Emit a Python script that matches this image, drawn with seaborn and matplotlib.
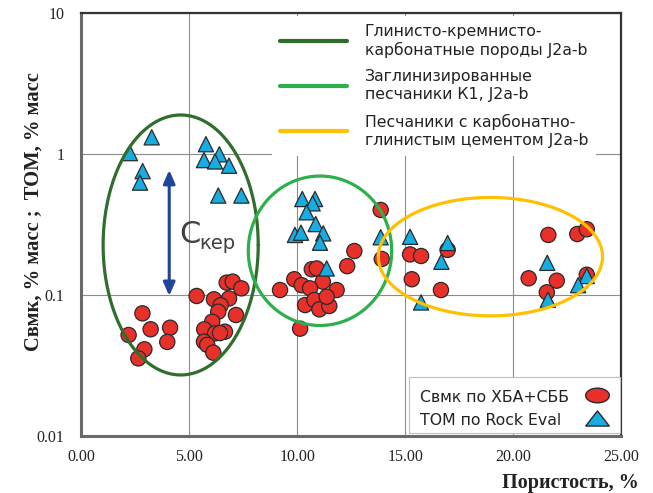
import numpy as np
import pandas as pd
import matplotlib
matplotlib.use("Agg")
import matplotlib.pyplot as plt
import seaborn as sns
from matplotlib.lines import Line2D
from matplotlib.patches import Rectangle
from matplotlib.ticker import FixedLocator, FuncFormatter, NullLocator

# ---------------- data ----------------
circ_x = [2.83, 2.19, 3.21, 4.11, 3.98, 2.92, 2.64,
          5.34, 6.14, 6.73, 7.01, 7.41, 6.84, 6.45, 6.34, 7.16, 6.06, 5.69, 6.19, 6.65, 6.42, 5.68, 5.83, 6.11,
          13.86, 12.64, 12.31, 13.91, 9.20, 9.86, 10.20, 10.67, 10.90, 11.18, 11.82, 10.59, 10.36, 10.79,
          11.02, 11.48, 11.36, 10.13,
          15.22, 15.73, 15.30, 16.96, 16.65, 21.62, 22.96, 23.40, 20.71, 22.01, 21.55, 23.40]
circ_y = [0.0745, 0.0523, 0.0574, 0.0589, 0.0467, 0.0414, 0.0357,
          0.0989, 0.0937, 0.123, 0.125, 0.112, 0.095, 0.085, 0.0765, 0.0725, 0.065, 0.0574, 0.0537, 0.0552, 0.054, 0.0469, 0.0445, 0.0392,
          0.403, 0.206, 0.161, 0.181, 0.109, 0.130, 0.118, 0.153, 0.155, 0.125, 0.109, 0.112, 0.0853, 0.0926,
          0.0795, 0.084, 0.0977, 0.058,
          0.195, 0.190, 0.130, 0.210, 0.109, 0.268, 0.272, 0.294, 0.132, 0.127, 0.105, 0.140]
tri_x = [3.26, 2.25, 2.84, 2.72, 5.77, 6.39, 5.68, 6.19, 6.84, 6.34, 7.41,
         10.23, 10.82, 10.71, 10.43, 10.85, 9.89, 10.17, 11.20, 11.05, 11.36, 13.86,
         15.22, 16.96, 16.67, 15.73, 21.57, 21.60, 23.40, 23.00]
tri_y = [1.32, 1.02, 0.76, 0.63, 1.18, 1.00, 0.91, 0.89, 0.83, 0.51, 0.51,
         0.482, 0.482, 0.449, 0.388, 0.320, 0.268, 0.278, 0.275, 0.236, 0.155, 0.258,
         0.260, 0.235, 0.173, 0.089, 0.170, 0.093, 0.137, 0.118]

series_labels = ["Свмк по ХБА+СББ", "ТОМ по Rock Eval"]

# outlined groups: centre x, centre y, half-width (x units), half-height (decades)
group_labels = ["Глинисто-кремнисто-\nкарбонатные породы J2a-b",
                "Заглинизированные\nпесчаники К1, J2a-b",
                "Песчаники с карбонатно-\nглинистым цементом J2a-b"]
group_cx = [4.60, 11.05, 18.94]
group_cy = [0.2275, 0.207, 0.188]
group_rx = [3.59, 3.32, 5.19]
group_rdec = [0.922, 0.53, 0.42]

arrow_x = 4.07
arrow_y = [0.774, 0.099]

x_ticks = [0, 5, 10, 15, 20, 25]
y_ticks = [0.01, 0.1, 1, 10]

# ---------------- style ----------------
sns.set_style("white")
plt.rcParams["font.family"] = ["DejaVu Sans"]

c_red = "#E8302A"
c_blue = "#17ADE3"
c_edge = "#2A2A2A"
g_colors = ["#2F6E2B", "#2DB04B", "#FFC000"]
serif = ["Liberation Serif", "DejaVu Serif"]
txt_col = "#222222"

fig = plt.figure(figsize=(6.53, 4.93), dpi=100)
ax = fig.add_axes([0.1245, 0.115, 0.827, 0.858])

df = pd.DataFrame({
    "x": circ_x + tri_x,
    "y": circ_y + tri_y,
    "kind": [series_labels[0]] * len(circ_x) + [series_labels[1]] * len(tri_x),
})
sns.scatterplot(data=df, x="x", y="y", hue="kind", style="kind",
                palette={series_labels[0]: c_red, series_labels[1]: c_blue},
                markers={series_labels[0]: "o", series_labels[1]: "^"},
                s=120, edgecolor=c_edge, linewidth=0.9, legend=False, ax=ax, zorder=3)

ax.set_yscale("log")
ax.set_xlim(0, 25)
ax.set_ylim(0.01, 10)

# ellipses around groups
t = np.linspace(0, 2 * np.pi, 400)
for cx, cy, rx, rd, col in zip(group_cx, group_cy, group_rx, group_rdec, g_colors):
    ex = cx + rx * np.cos(t)
    ey = 10 ** (np.log10(cy) + rd * np.sin(t))
    ax.plot(ex, ey, color=col, lw=2.3, zorder=4)

# double arrow
ax.annotate("", xy=(arrow_x, arrow_y[1]), xytext=(arrow_x, arrow_y[0]),
            arrowprops=dict(arrowstyle="<|-|>,head_length=0.8,head_width=0.35",
                            color="#1F449C", lw=2.2, shrinkA=0, shrinkB=0), zorder=4)
ax.text(4.52, 0.235, "С", fontsize=22, color="#404040", ha="left", va="baseline",
        family=["DejaVu Sans"], zorder=4)
ax.text(5.45, 0.212, "кер", fontsize=14, color="#404040", ha="left", va="baseline",
        family=["DejaVu Sans"], zorder=4)

# ticks / grid
ax.xaxis.set_major_locator(FixedLocator(x_ticks))
ax.xaxis.set_major_formatter(FuncFormatter(lambda v, p: f"{v:.2f}"))
ax.yaxis.set_major_locator(FixedLocator(y_ticks))
ax.yaxis.set_major_formatter(FuncFormatter(lambda v, p: f"{v:g}"))
ax.yaxis.set_minor_locator(NullLocator())
ax.tick_params(axis="both", length=0, labelsize=11.5, colors=txt_col)
ax.tick_params(axis="x", pad=9)
ax.tick_params(axis="y", pad=12)
for lab in ax.get_xticklabels() + ax.get_yticklabels():
    lab.set_family(serif)
ax.grid(True, color="#8C8C8C", lw=0.8, zorder=0)
ax.set_axisbelow(True)

for side in ["left", "bottom"]:
    ax.spines[side].set_color("#6A6A6A")
    ax.spines[side].set_linewidth(2.2)
for side in ["top", "right"]:
    ax.spines[side].set_color("#333333")
    ax.spines[side].set_linewidth(1.6)

ax.set_xlabel("Пористость, %", fontsize=14.5, fontweight="bold", family=serif,
              color=txt_col, ha="right")
ax.xaxis.set_label_coords(1.033, -0.087)
ax.set_ylabel("Свмк, % масс ;  ТОМ, % масс", fontsize=14.8, fontweight="bold",
              family=serif, color=txt_col)
ax.yaxis.set_label_coords(-0.069, 0.531)

# legend of groups
g_handles = [Line2D([], [], color=c, lw=3) for c in g_colors]
leg1 = ax.legend(g_handles, group_labels, loc="upper left", bbox_to_anchor=(0.353, 0.994),
                 borderaxespad=0, frameon=True, facecolor="white", edgecolor="none",
                 framealpha=1, fancybox=False, handlelength=4.3,
                 handletextpad=1.1, labelspacing=0.72, borderpad=0.5,
                 prop={"family": ["DejaVu Sans"], "size": 11.3})
for tx in leg1.get_texts():
    tx.set_linespacing(1.25)
    tx.set_color(txt_col)

# legend of series (drawn as a boxed key in axes fractions)
ax.add_patch(Rectangle((0.607, 0.008), 0.3906, 0.132, transform=ax.transAxes,
                       facecolor="white", edgecolor="#BFBFBF", lw=0.8, zorder=6, clip_on=False))
key_marker = [
    np.column_stack([np.cos(t), 0.62 * np.sin(t)]),
    np.array([[-1.0, -0.64], [1.0, -0.64], [0.0, 0.64], [-1.0, -0.64]]),
]
key_colors = [c_red, c_blue]
key_y = [0.081, 0.0267]
key_my = [0.0976, 0.0433]
for lab, mk, col, ty, my in zip(series_labels, key_marker, key_colors, key_y, key_my):
    ax.text(0.627, ty, lab, transform=ax.transAxes, fontsize=11.3, color=txt_col,
            ha="left", va="baseline", family=["DejaVu Sans"], zorder=7)
    ax.plot([0.955], [my], transform=ax.transAxes, ls="none", marker=mk, ms=17,
            mfc=col, mec=c_edge, mew=1.0, zorder=7, clip_on=False)

fig.savefig("out.png", dpi=100)
